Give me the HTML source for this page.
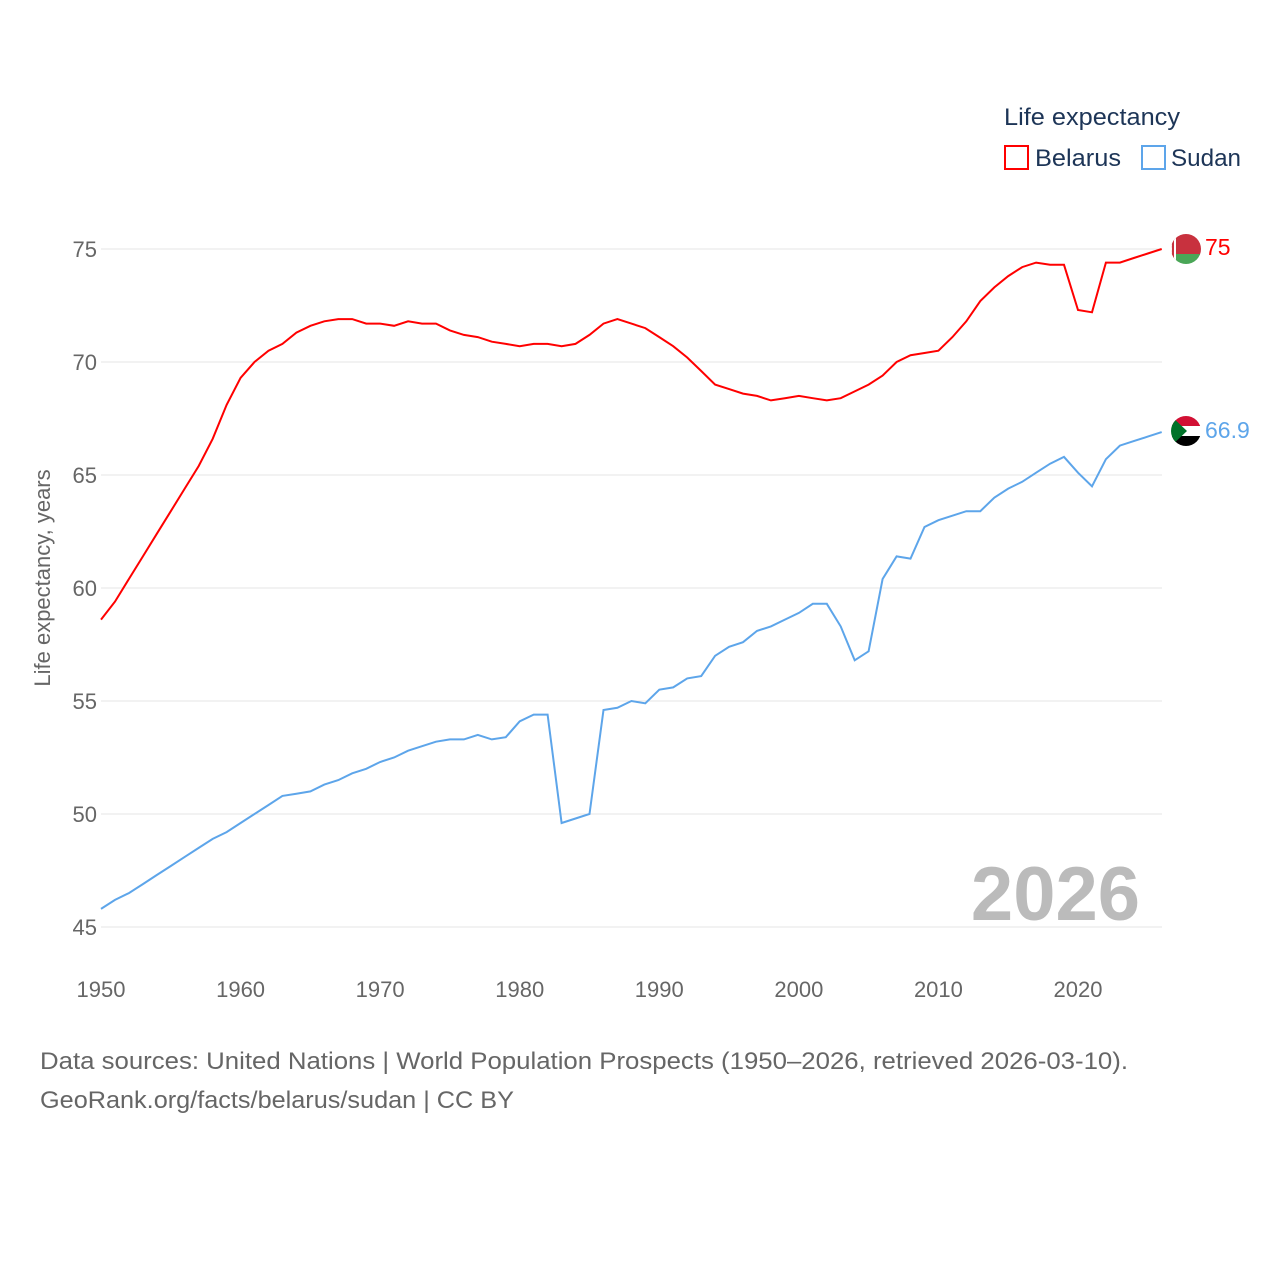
<!DOCTYPE html>
<html><head><meta charset="utf-8"><style>
body{margin:0;background:#fff;font-family:"Liberation Sans",sans-serif}
</style></head><body>
<svg id="c" width="1280" height="1280" xmlns="http://www.w3.org/2000/svg">
<text x="1004" y="125" font-size="24" fill="#1d3557" textLength="176" lengthAdjust="spacingAndGlyphs">Life expectancy</text>
<rect x="1005" y="146" width="23" height="23" fill="none" stroke="#f00" stroke-width="2"/>
<text x="1035" y="166" font-size="24" fill="#1d3557" textLength="86" lengthAdjust="spacingAndGlyphs">Belarus</text>
<rect x="1142" y="146" width="23" height="23" fill="none" stroke="#5da5ea" stroke-width="2"/>
<text x="1171" y="166" font-size="24" fill="#1d3557" textLength="70" lengthAdjust="spacingAndGlyphs">Sudan</text>
<text transform="translate(50,578) rotate(-90)" text-anchor="middle" font-size="22" fill="#666">Life expectancy, years</text>
<g id="grid"></g><g id="series"></g>
<text x="1140" y="920" text-anchor="end" font-size="76" font-weight="bold" fill="#bbb">2026</text>
<text x="40" y="1069" font-size="24" fill="#666" textLength="1088" lengthAdjust="spacingAndGlyphs">Data sources: United Nations | World Population Prospects (1950–2026, retrieved 2026-03-10).</text>
<text x="40" y="1108" font-size="24" fill="#666" textLength="474" lengthAdjust="spacingAndGlyphs">GeoRank.org/facts/belarus/sudan | CC BY</text>
<defs><clipPath id="fb"><circle cx="1186" cy="249" r="15"/></clipPath><clipPath id="fs"><circle cx="1186" cy="431" r="15"/></clipPath></defs>
<g clip-path="url(#fb)">
<rect x="1170" y="233" width="32" height="22" fill="#c8313e"/><rect x="1170" y="254" width="32" height="12" fill="#4aa657"/><rect x="1170" y="233" width="6" height="32" fill="#fff"/><rect x="1172" y="240" width="2" height="18" fill="#c8313e"/></g>
<g clip-path="url(#fs)">
<rect x="1170" y="415" width="32" height="11" fill="#d21034"/><rect x="1170" y="426" width="32" height="10" fill="#fff"/><rect x="1170" y="436" width="32" height="11" fill="#000"/><polygon points="1170,415 1187,431 1170,447" fill="#007229"/></g>
</svg>
<script>
const years=[];for(let y=1950;y<=2026;y++)years.push(y);
const belarus=[58.6,59.4,60.4,61.4,62.4,63.4,64.4,65.4,66.6,68.1,69.3,70.0,70.5,70.8,71.3,71.6,71.8,71.9,71.9,71.7,71.7,71.6,71.8,71.7,71.7,71.4,71.2,71.1,70.9,70.8,70.7,70.8,70.8,70.7,70.8,71.2,71.7,71.9,71.7,71.5,71.1,70.7,70.2,69.6,69.0,68.8,68.6,68.5,68.3,68.4,68.5,68.4,68.3,68.4,68.7,69.0,69.4,70.0,70.3,70.4,70.5,71.1,71.8,72.7,73.3,73.8,74.2,74.4,74.3,74.3,72.3,72.2,74.4,74.4,74.6,74.8,75.0];
const sudan=[45.8,46.2,46.5,46.9,47.3,47.7,48.1,48.5,48.9,49.2,49.6,50.0,50.4,50.8,50.9,51.0,51.3,51.5,51.8,52.0,52.3,52.5,52.8,53.0,53.2,53.3,53.3,53.5,53.3,53.4,54.1,54.4,54.4,49.6,49.8,50.0,54.6,54.7,55.0,54.9,55.5,55.6,56.0,56.1,57.0,57.4,57.6,58.1,58.3,58.6,58.9,59.3,59.3,58.3,56.8,57.2,60.4,61.4,61.3,62.7,63.0,63.2,63.4,63.4,64.0,64.4,64.7,65.1,65.5,65.8,65.1,64.5,65.7,66.3,66.5,66.7,66.9];
const yTicks=[45,50,55,60,65,70,75];
const xTicks=[1950,1960,1970,1980,1990,2000,2010,2020];
const X=y=>101+(y-1950)*(977/70);
const Y=v=>249+(75-v)*(678/30);
const NS="http://www.w3.org/2000/svg";
const g=document.getElementById('grid'),s=document.getElementById('series'),svg=document.getElementById('c');
function mk(t,a,p){const e=document.createElementNS(NS,t);for(const k in a)e.setAttribute(k,a[k]);p.appendChild(e);return e;}
yTicks.forEach(v=>{
 const l=mk('line',{x1:101,x2:1162,y1:Y(v),y2:Y(v),stroke:'#e6e6e6'},g);
 
 
 const t=mk('text',{x:97,y:Y(v)+8,'text-anchor':'end','font-size':22,fill:'#666'},g);t.textContent=v;
 
 
});
xTicks.forEach(v=>{
 const t=mk('text',{x:X(v),y:997,'text-anchor':'middle','font-size':22,fill:'#666'},g);t.textContent=v;
 
 
});
function line(d,c,n){
 const p=mk('path',{d:d.map((v,i)=>(i?'L':'M')+X(years[i]).toFixed(1)+','+Y(v).toFixed(1)).join(''),fill:'none',stroke:c,'stroke-width':2},s);
 
 
 const last=d[d.length-1];
 const t=mk('text',{x:1205,y:Y(last)+6,'font-size':23,fill:c},svg);t.textContent=last;
 
 
}
line(belarus,'#f00','belarus');
line(sudan,'#5da5ea','sudan');
</script>
</body></html>
